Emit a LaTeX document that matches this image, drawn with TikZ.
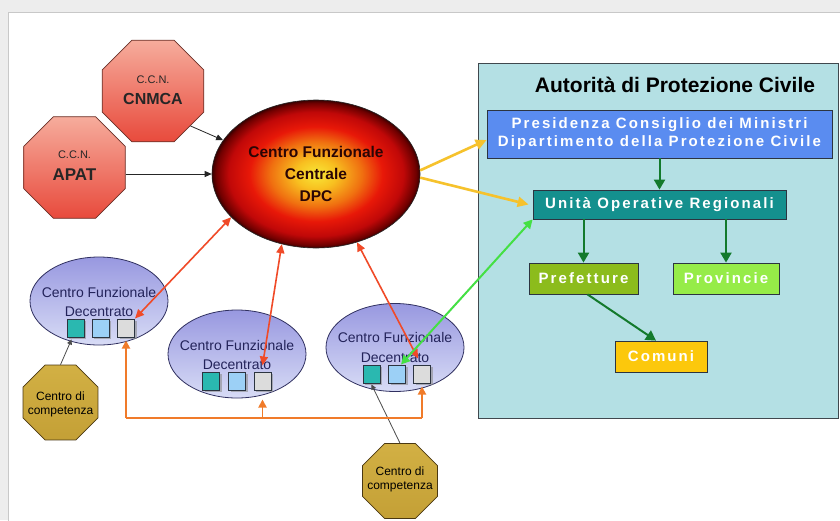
\documentclass[tikz,border=0pt]{standalone}
\usepackage{fontspec}
\setmainfont{Liberation Sans}
\newfontfamily\boxfont[LetterSpace=14]{Liberation Sans}
\usetikzlibrary{shapes.geometric,arrows.meta,shadows}
\definecolor{pagegray}{HTML}{EDEDED}
\definecolor{panelline}{HTML}{C8C8C8}
\definecolor{fbY}{HTML}{F8E838}
\definecolor{fbYO}{HTML}{F8C020}
\definecolor{fbO}{HTML}{F07010}
\definecolor{fbR}{HTML}{E81808}
\definecolor{fbD}{HTML}{C00808}
\definecolor{fbDD}{HTML}{700000}
\definecolor{fbK}{HTML}{3A0000}
\definecolor{redtop}{HTML}{F6AC9C}
\definecolor{redbot}{HTML}{E84A3C}
\definecolor{redline}{HTML}{6A3028}
\definecolor{goldA}{HTML}{D2B044}
\definecolor{goldM}{HTML}{EAD680}
\definecolor{goldB}{HTML}{C4A036}
\definecolor{goldline}{HTML}{4A3812}
\definecolor{autbg}{HTML}{B4E0E4}
\definecolor{autline}{HTML}{40484E}
\definecolor{presblue}{HTML}{5A8CF0}
\definecolor{unitateal}{HTML}{14908E}
\definecolor{prefgreen}{HTML}{8CBC1C}
\definecolor{provgreen}{HTML}{96EC48}
\definecolor{comyellow}{HTML}{FCC80C}
\definecolor{boxline}{HTML}{2C3440}
\definecolor{dectop}{HTML}{9898E0}
\definecolor{decbot}{HTML}{D8DCF6}
\definecolor{decline}{HTML}{303060}
\definecolor{dectext}{HTML}{23235A}
\definecolor{sqteal}{HTML}{2AB8B0}
\definecolor{sqblue}{HTML}{9CD0F6}
\definecolor{sqgray}{HTML}{DCDCDC}
\definecolor{redA}{HTML}{F04A28}
\definecolor{yelA}{HTML}{F6C22C}
\definecolor{grnB}{HTML}{44E044}
\definecolor{grnD}{HTML}{137A2C}
\definecolor{orgA}{HTML}{F07B2A}
\definecolor{cfctext}{HTML}{2A0505}
\pgfdeclareradialshading{fireball}{\pgfpoint{0bp}{0bp}}{color(0bp)=(fbY); color(5bp)=(fbYO); color(11bp)=(fbO); color(16bp)=(fbR); color(21bp)=(fbD); color(24bp)=(fbDD); color(25bp)=(fbK); color(50bp)=(fbK)}
\begin{document}
\begin{tikzpicture}[x=1pt,y=-1pt,
  redoct/.style={regular polygon,regular polygon sides=8,inner sep=0pt,minimum size=110pt,
    top color=redtop,bottom color=redbot,draw=redline,line width=0.8pt},
  octtxt/.style={align=center,inner sep=0pt,text=black!85},
  goldoct/.style={regular polygon,regular polygon sides=8,inner sep=0pt,minimum size=81pt,
    top color=goldA,middle color=goldM,bottom color=goldB,draw=goldline,line width=0.8pt},
  goldtxt/.style={align=center,inner sep=0pt,font=\fontsize{12}{14}\selectfont},
  boxn/.style={draw=boxline,line width=0.8pt,text=white,inner sep=0pt,align=center,
    font=\boxfont\bfseries\fontsize{15}{18}\selectfont},
  dec/.style={ellipse,minimum width=138pt,minimum height=88pt,inner sep=0pt,
    top color=dectop,bottom color=decbot,draw=decline,line width=0.8pt},
  dectxt/.style={align=center,text=dectext,inner sep=0pt,font=\fontsize{14}{19.5}\selectfont},
  sq/.style={minimum width=17pt,minimum height=18pt,inner sep=0pt,draw=boxline,line width=1pt,
    drop shadow={shadow xshift=2pt,shadow yshift=-2pt,fill=black!45,opacity=0.6}},
  redarr/.style={draw=redA,line width=1.6pt,{Triangle[length=9pt,width=8pt]}-{Triangle[length=9pt,width=8pt]}},
  yelarr/.style={draw=yelA,line width=2.6pt,-{Triangle[length=11pt,width=10pt]}},
  grnarr/.style={draw=grnB,line width=2pt,{Triangle[length=9pt,width=9pt]}-{Triangle[length=9pt,width=9pt]}},
  dgarr/.style={draw=grnD,line width=2pt,-{Triangle[length=10pt,width=11pt]}},
  busline/.style={draw=orgA,line width=1.8pt},
  busarr/.style={busline,-{Triangle[length=8pt,width=8pt]}},
  blkarr/.style={draw=black!85,line width=0.8pt,-{Triangle[length=7pt,width=6pt]}},
  blkline/.style={draw=black!70,line width=0.8pt,-{Triangle[length=5pt,width=5pt]}}
]
\useasboundingbox (0,0) rectangle (840,520);
\fill[pagegray] (0,0) rectangle (840,520);
\draw[panelline,fill=white,line width=0.8pt] (8,12) rectangle (842,522);

% Autorita panel
\node[draw=autline,line width=1.2pt,fill=autbg,minimum width=360pt,minimum height=355pt,inner sep=0pt,anchor=north west] (aut) at (478,63) {};
\node[font=\fontsize{21}{25}\selectfont\bfseries,inner sep=0pt] (autt) at (675,85) {Autorità di Protezione Civile};
\node[boxn,fill=presblue,minimum width=345pt,minimum height=48pt] (pres) at (659.5,134) {Presidenza Consiglio dei Ministri\\Dipartimento della Protezione Civile};
\node[boxn,fill=unitateal,minimum width=253pt,minimum height=29pt] (unita) at (659.5,204.5) {Unità Operative Regionali};
\node[boxn,fill=prefgreen,minimum width=109pt,minimum height=31pt] (pref) at (583.5,278.5) {Prefetture};
\node[boxn,fill=provgreen,minimum width=106pt,minimum height=31pt] (prov) at (726,278.5) {Provincie};
\node[boxn,fill=comyellow,minimum width=92pt,minimum height=31pt] (com) at (661,356.5) {Comuni};

% C.C.N. octagons
\node[redoct] (cnmca) at (153,91) {};
\node[octtxt,font=\fontsize{11}{13}\selectfont] (cnmcat1) at (153,80) {C.C.N.};
\node[octtxt,font=\fontsize{16}{19}\selectfont\bfseries] (cnmcat2) at (153,99) {CNMCA};
\node[redoct] (apat) at (74.5,167.5) {};
\node[octtxt,font=\fontsize{11}{13}\selectfont] (apatt1) at (74.5,155) {C.C.N.};
\node[octtxt,font=\fontsize{17}{20}\selectfont\bfseries] (apatt2) at (74.5,175) {APAT};

% central ellipse
\node[ellipse,minimum width=208pt,minimum height=148pt,inner sep=0pt,shade,shading=fireball,
  draw=black!85,line width=0.6pt,align=center,text=cfctext,font=\fontsize{15.5}{22}\selectfont\bfseries] (cfc) at (316,174) {Centro Funzionale\\Centrale\\DPC};

% decentrato ellipses
\node[dec] (d1) at (99,301) {};
\node[dectxt] (d1t) at (99,302) {Centro Funzionale\\Decentrato};
\node[sq,fill=sqteal] (d1a) at (75.5,328) {};
\node[sq,fill=sqblue] (d1b) at (100.5,328) {};
\node[sq,fill=sqgray] (d1c) at (126,328) {};

\node[dec] (d2) at (237,354) {};
\node[dectxt] (d2t) at (237,355) {Centro Funzionale\\Decentrato};
\node[sq,fill=sqteal] (d2a) at (211,381) {};
\node[sq,fill=sqblue] (d2b) at (237,381) {};
\node[sq,fill=sqgray] (d2c) at (262.5,381) {};

\node[dec] (d3) at (395,347.5) {};
\node[dectxt] (d3t) at (395,347.5) {Centro Funzionale\\Decentrato};
\node[sq,fill=sqteal] (d3a) at (371.5,374) {};
\node[sq,fill=sqblue] (d3b) at (397,374) {};
\node[sq,fill=sqgray] (d3c) at (422,374) {};

% gold octagons
\node[goldoct] (g1) at (60.5,402.5) {};
\node[goldtxt] (g1t) at (60.5,404) {Centro di\\competenza};
\node[goldoct] (g2) at (400,481) {};
\node[goldtxt] (g2t) at (400,479) {Centro di\\competenza};

% black arrows
\draw[blkarr] (cnmca.-43.4) -- (cfc.160.3);
\draw[blkarr] (apat.east |- cfc.west) -- (cfc.west);
\draw[blkline] (g1.north) -- ([xshift=-4pt,yshift=-2pt]d1a.south);
\draw[blkline] (g2.north) -- ([yshift=-1pt]d3a.south);

% orange bus
\coordinate (busy) at (0,418);
\draw[busline] (d1c.south |- busy) -- (d3c.south |- busy);
\draw[busarr] (d1c.south |- busy) -- ([yshift=-3pt]d1c.south);
\draw[busarr] (d2c.south |- busy) -- ([yshift=-9pt]d2c.south);
\draw[busarr] (d3c.south |- busy) -- ([yshift=-3pt]d3c.south);

% red arrows
\draw[redarr] (cfc.207.6) -- (d1c.north east);
\draw[redarr] (cfc.244.4) -- ([yshift=6pt]d2c.north);
\draw[redarr] (cfc.301.3) -- ([xshift=-4pt,yshift=6pt]d3c.north);

% yellow arrows
\draw[yelarr] (cfc.2) -- ([yshift=-6pt]pres.west);
\draw[yelarr] (cfc.-2) -- ([xshift=-4pt]unita.west);

% bright green arrow
\draw[grnarr] (unita.south west) -- ([xshift=4pt]d3b.north);

% dark green arrows
\draw[dgarr] (pres.south) -- (unita.north);
\draw[dgarr] (pref.north |- unita.south) -- (pref.north);
\draw[dgarr] (prov.north |- unita.south) -- (prov.north);
\draw[dgarr] ([xshift=4pt]pref.south) -- ([xshift=-5pt]com.north);
\end{tikzpicture}
\end{document}
